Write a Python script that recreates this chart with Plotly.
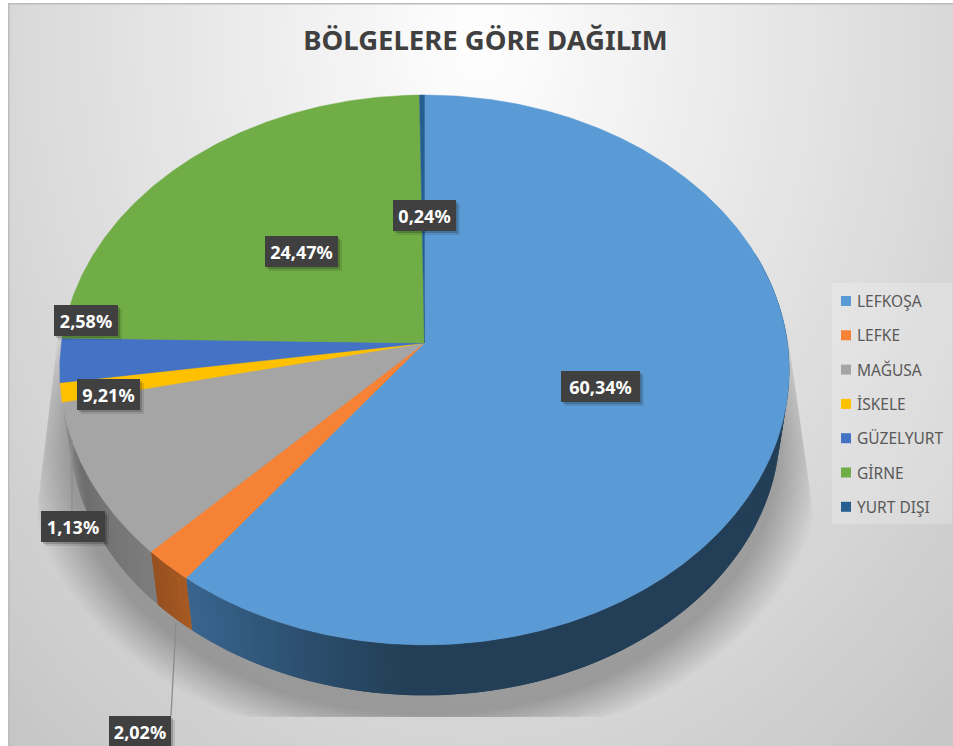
import math
import plotly.graph_objects as go

W, H = 953, 746

# ---- data ----
categories = ["LEFKOŞA", "LEFKE", "MAĞUSA", "İSKELE", "GÜZELYURT", "GİRNE", "YURT DIŞI"]
values = [60.34, 2.02, 9.21, 1.13, 2.58, 24.47, 0.24]
colors = ["#5b9bd5", "#f58235", "#a5a5a5", "#ffc000", "#4472c4", "#70ad47", "#255e91"]
title_text = "BÖLGELERE GÖRE DAĞILIM"

# ---- projection of the tilted disc (perspective) ----
CX, CY = 424.5, 343.0
A, B, K = 363.0, 272.3, 0.098
DROP, SHRINK = 58.0, 0.975


def top(t):
    r = math.radians(t)
    X, Y = math.sin(r), -math.cos(r)
    w = 1 - K * Y
    return CX + A * X / w, CY + B * Y / w


def bottom(t, grow=0.0, extra=0.0):
    x, y = top(t)
    s = SHRINK + grow
    return CX + s * (x - CX), CY + DROP + extra + s * (y - CY)


def lerp_color(c1, c2, f):
    f = max(0.0, min(1.0, f))
    a = [int(c1[i:i + 2], 16) for i in (1, 3, 5)]
    b = [int(c2[i:i + 2], 16) for i in (1, 3, 5)]
    return "#%02x%02x%02x" % tuple(round(p + (q - p) * f) for p, q in zip(a, b))


def side_color(i, t):
    if i == 0:
        return lerp_color("#233f57", "#38658f", (t - 183) / 34)
    if i == 1:
        return lerp_color("#a85a23", "#96501f", (t - 217) / 7)
    if t < 245:
        return lerp_color("#7d7d7d", "#6e6e6e", (t - 224) / 21)
    return lerp_color("#6e6e6e", "#969696", (t - 245) / 13)


fig = go.Figure()

# ---- floor shadow, clamped to a trapezoid with a hard lower edge ----
SH_BOTTOM = 717.0


def clamp_shadow(x, y):
    if y < 300:
        return None
    y = min(y, SH_BOTTOM)
    f = max(0.0, min(1.0, (y - 300) / 210))
    left, right = 62 - 25 * f, 783 + 30 * f
    return max(left, min(right, x)), y


layers = 30
for n in range(layers):
    g = 0.125 * (1 - n / (layers - 1))
    xs, ys = [], []
    for d in range(0, 361, 3):
        p = clamp_shadow(*bottom(d, g, 20.0))
        if p:
            xs.append(p[0])
            ys.append(p[1])
    fig.add_trace(go.Scatter(x=xs, y=ys, mode="lines", fill="toself", line=dict(width=0),
                             fillcolor="rgba(0,0,0,0.0078)", hoverinfo="skip", showlegend=False))

# ---- slices: angles come from the values ----
total = sum(values)
bounds = [0.0]
for v in values:
    bounds.append(bounds[-1] + v / total * 360.0)

# side wall (visible part only: Lefkoşa, Lefke, Mağusa)
STEP = 1.0
for i in range(3):
    a0, a1 = max(bounds[i], 70.0), bounds[i + 1]
    t = a0
    while t < a1:
        t2 = min(t + STEP, a1)
        t3 = min(t + STEP * 2, a1)
        p = [top(t), top(t3), bottom(t3), bottom(t), top(t)]
        col = side_color(i, (t + t2) / 2)
        fig.add_trace(go.Scatter(x=[q[0] for q in p], y=[q[1] for q in p], mode="lines", fill="toself",
                                 line=dict(width=0), fillcolor=col,
                                 hoverinfo="skip", showlegend=False))
        t = t2

# top surface
for i, (name, v) in enumerate(zip(categories, values)):
    n = max(2, int((bounds[i + 1] - bounds[i]) / 0.5))
    pts = [(CX, CY)] + [top(bounds[i] + (bounds[i + 1] - bounds[i]) * j / n) for j in range(n + 1)] + [(CX, CY)]
    fig.add_trace(go.Scatter(x=[q[0] for q in pts], y=[q[1] for q in pts], mode="lines", fill="toself",
                             line=dict(width=0.5, color=colors[i]), fillcolor=colors[i],
                             name=name, text=f"{name}: {v:.2f}%".replace(".", ","), hoverinfo="text",
                             showlegend=False))

# ---- background: radial grey gradient ----
shapes = [dict(type="rect", xref="x", yref="y", x0=0, x1=W, y0=0, y1=H, layer="below",
               line=dict(width=0), fillcolor="#c0c0c0")]
GX, GY, RATIO = 480.0, 40.0, 1.35
for k in range(70):
    r = 760 * (1 - k / 70)
    v = 1 - 0.15 * r / 470
    g = round(255 * max(v, 0.75))
    shapes.append(dict(type="circle", xref="x", yref="y", x0=GX - r, x1=GX + r,
                       y0=GY - r * RATIO, y1=GY + r * RATIO, layer="below",
                       line=dict(width=0), fillcolor=f"rgb({g},{g},{g})"))
shapes += [
    dict(type="rect", xref="x", yref="y", x0=0, x1=8, y0=0, y1=H, layer="below",
         line=dict(width=0), fillcolor="#ffffff"),
    dict(type="rect", xref="x", yref="y", x0=0, x1=W, y0=0, y1=3, layer="below",
         line=dict(width=0), fillcolor="#ffffff"),
    dict(type="rect", xref="x", yref="y", x0=8, x1=9.5, y0=3, y1=H, layer="below",
         line=dict(width=0), fillcolor="#bcbcbc"),
    dict(type="rect", xref="x", yref="y", x0=8, x1=W, y0=3, y1=4.5, layer="below",
         line=dict(width=0), fillcolor="#bcbcbc"),
    # leader lines
    dict(type="line", xref="x", yref="y", x0=72, x1=72, y0=440, y1=510, layer="above",
         line=dict(width=1.3, color="#8c8c8c")),
    dict(type="line", xref="x", yref="y", x0=176, x1=171, y0=622, y1=716, layer="above",
         line=dict(width=1.3, color="#8c8c8c")),
]

# ---- data labels ----
label_x = [600.5, 140, 108.5, 73, 86, 301.5, 424.5]
label_y = [386, 731, 394, 526, 320.5, 251, 215.5]
label_w = [79, 62, 63, 64, 64, 73, 63]
annotations = []
for v, x, y, w in zip(values, label_x, label_y, label_w):
    base = dict(xref="x", yref="y", showarrow=False, width=w, height=31, borderpad=0, borderwidth=0,
                xanchor="center", yanchor="middle", align="center", valign="middle")
    annotations.append(dict(base, x=x + 4, y=y + 4, text=" ", bgcolor="rgba(0,0,0,0.10)"))
    annotations.append(dict(base, x=x + 2, y=y + 2, text=" ", bgcolor="rgba(0,0,0,0.18)"))
    annotations.append(dict(base, x=x, y=y, text=f"<b>{v:.2f}%</b>".replace(".", ","), bgcolor="#404040",
                            font=dict(family="Noto Sans", size=18, color="#ffffff")))

# ---- legend panel ----
shapes.append(dict(type="rect", xref="x", yref="y", x0=832, x1=952, y0=283, y1=524, layer="above",
                   line=dict(width=0), fillcolor="rgba(255,255,255,0.22)"))
for i, (name, col) in enumerate(zip(categories, colors)):
    ly = 301 + 34.3 * i
    shapes.append(dict(type="rect", xref="x", yref="y", x0=841, x1=851, y0=ly - 5, y1=ly + 5, layer="above",
                       line=dict(width=0), fillcolor=col))
    annotations.append(dict(xref="x", yref="y", x=855, y=ly, text=name, showarrow=False,
                            xanchor="left", yanchor="middle",
                            font=dict(family="Noto Sans", size=15.5, color="#595959")))

fig.update_layout(
    width=W, height=H, autosize=False, showlegend=False,
    margin=dict(l=0, r=0, t=0, b=0),
    paper_bgcolor="#ffffff", plot_bgcolor="rgba(0,0,0,0)",
    xaxis=dict(range=[0, W], visible=False, fixedrange=True),
    yaxis=dict(range=[H, 0], visible=False, fixedrange=True),
    title=dict(text=f"<b>{title_text}</b>", x=485.5 / W, xanchor="center", y=1 - 40 / H, yanchor="middle",
               font=dict(family="Noto Sans", size=27.5, color="#404040")),
    shapes=shapes,
    annotations=annotations,
)

fig.write_html("out.html", config={"displayModeBar": False},
               post_script="document.body.style.margin='0';document.body.style.overflow='hidden';")
